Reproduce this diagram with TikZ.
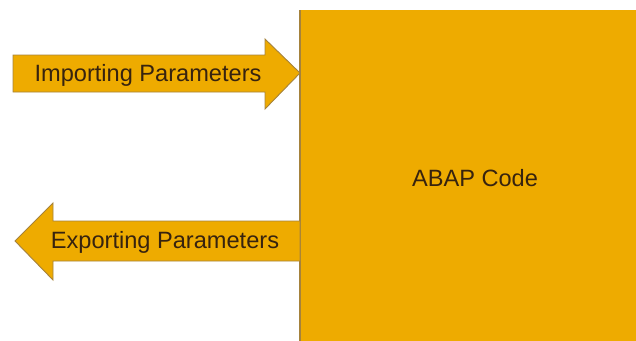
\documentclass[tikz,border=0pt]{standalone}
\usepackage{fontspec}
\setmainfont{Liberation Sans}
\definecolor{abapfill}{RGB}{238,171,0}
\definecolor{abapedge}{RGB}{165,130,60}
\definecolor{abaptext}{RGB}{55,35,15}
\begin{document}
\begin{tikzpicture}[x=1pt,y=-1pt,
  shapeedge/.style={fill=abapfill,draw=abapedge,line width=0.9pt,line join=miter},
  label/.style={font=\fontsize{23.6}{28}\selectfont,text=abaptext,inner sep=0pt,anchor=center}]
  \useasboundingbox (0,0) rectangle (636,340);
  \clip (0,0) rectangle (636,340);
  % program block
  \fill[abapfill] (300,10) rectangle (640,345);
  \draw[abapedge,line width=1.2pt] (300,10) -- (300,345);
  \coordinate (codeW) at (300,73);
  % importing arrow, pointing into the block
  \path[shapeedge] (13,55) -- (265,55) -- (265,39) -- (codeW) -- (265,109)
    -- (265,92) -- (13,92) -- cycle;
  % exporting arrow, leaving the block
  \path[shapeedge] (300,221) -- (53,221) -- (53,203) -- (15,241) -- (53,280)
    -- (53,261) -- (300,261) -- cycle;
  \node[label] (imp) at (148,75) {Importing Parameters};
  \node[label] (exp) at (165,242) {Exporting Parameters};
  \node[label] (code) at (475,178) {ABAP Code};
\end{tikzpicture}
\end{document}
